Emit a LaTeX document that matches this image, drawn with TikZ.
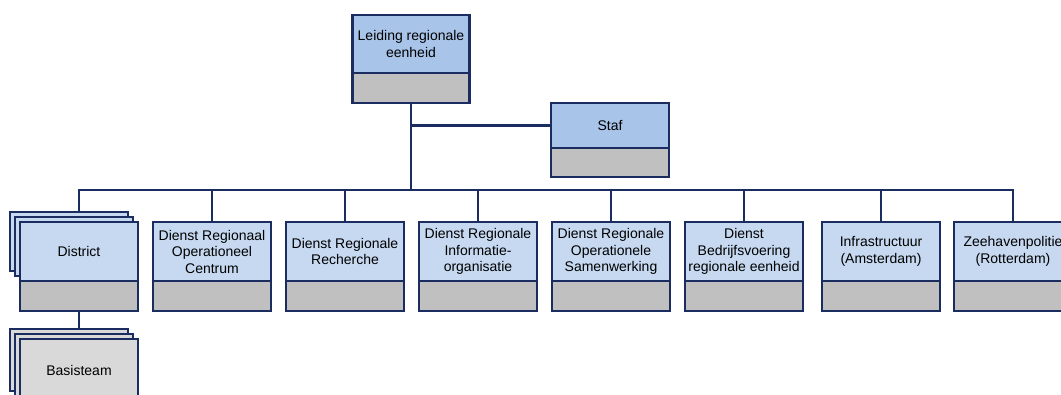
\documentclass[tikz,border=0pt]{standalone}
\usepackage{fontspec}
\setmainfont{Liberation Sans}
\usetikzlibrary{positioning}
\definecolor{navy}{RGB}{26,44,96}
\definecolor{kopblauw}{RGB}{168,196,232}
\definecolor{lichtblauw}{RGB}{198,217,241}
\definecolor{grijs}{RGB}{192,192,192}
\definecolor{lichtgrijs}{RGB}{217,217,217}
\tikzset{
  eenheid/.style={draw=navy, line width=2.7pt, fill=lichtblauw, minimum width=118pt,
    minimum height=59pt, outer sep=0pt, inner sep=1pt, align=center,
    font=\fontsize{14}{16.5}\selectfont},
  kop/.style={eenheid, fill=kopblauw},
  voet/.style={draw=navy, line width=2.7pt, fill=grijs, minimum width=118pt,
    minimum height=30pt, outer sep=0pt, inner sep=0pt},
  lijn/.style={draw=navy, line width=2.7pt}
}

\begin{document}
\begin{tikzpicture}[x=1pt,y=-1pt]
\useasboundingbox (0,0) rectangle (1061,394);
\clip (0,0) rectangle (1061,394);
% leiding en staf
\node[kop, minimum width=117pt, minimum height=58pt] (leiding) at (411,44) {Leiding regionale\\eenheid};
\node[voet, minimum width=117pt, below=0pt of leiding] (leiding-g) {};
\node[kop, minimum height=45pt] (staf) at (610,125.5) {Staf};
\node[voet, minimum height=29pt, below=0pt of staf] (staf-g) {};
% district (gestapeld)
\node[eenheid] (district-b2) at (69,241.5) {};
\node[eenheid] (district-b1) at (74,246.5) {};
\node[eenheid] (district) at (79,251.5) {District};
% diensten
\node[eenheid] (droc) at (212,251.5) {Dienst Regionaal\\Operationeel\\Centrum};
\node[eenheid] (drr) at (345,251.5) {Dienst Regionale\\Recherche};
\node[eenheid] (drio) at (478,251.5) {Dienst Regionale\\Informatie-\\organisatie};
\node[eenheid] (dros) at (611,251.5) {Dienst Regionale\\Operationele\\Samenwerking};
\node[eenheid] (dbre) at (744,251.5) {Dienst\\Bedrijfsvoering\\regionale eenheid};
\node[eenheid] (infra) at (881,251.5) {Infrastructuur\\(Amsterdam)};
\node[eenheid] (zeehaven) at (1013,251.5) {Zeehavenpolitie\\(Rotterdam)};
\foreach \n in {district,droc,drr,drio,dros,dbre,infra,zeehaven}
  \node[voet, below=0pt of \n] (\n-g) {};
% basisteam (gestapeld)
\node[eenheid, fill=lichtgrijs, minimum height=62pt] (basis-b2) at (69,360) {};
\node[eenheid, fill=lichtgrijs, minimum height=62pt] (basis-b1) at (74,365) {};
\node[eenheid, fill=lichtgrijs, minimum height=62pt] (basis) at (79,370) {Basisteam};
% lijnen
\coordinate (bus) at (411,190);
\draw[lijn] (leiding-g.south) -- (bus);
\draw[lijn] (leiding-g.south |- staf.west) -- (staf.west);
\draw[lijn] (district-b2.north -| district.north) -- (bus -| district) -- (bus -| zeehaven) -- (zeehaven.north);
\foreach \n in {droc,drr,drio,dros,dbre,infra}
  \draw[lijn] (bus -| \n) -- (\n.north);
\draw[lijn] (district-g.south) -- (district-g.south |- basis-b2.north);
\end{tikzpicture}
\end{document}
